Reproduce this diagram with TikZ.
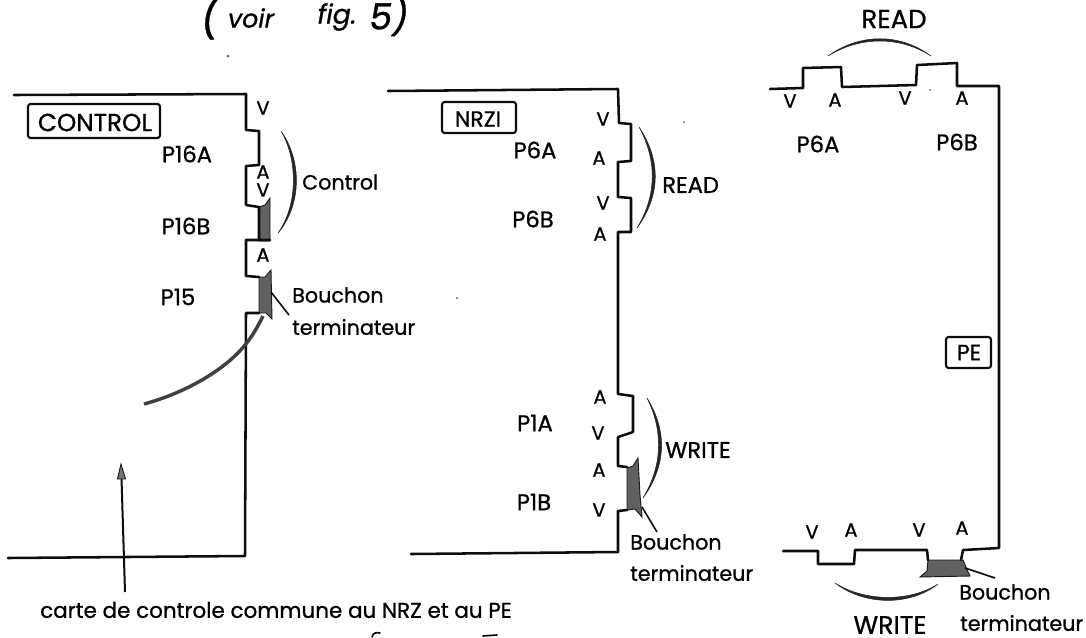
\documentclass[tikz,border=0pt]{standalone}
\usepackage{fontspec}
\setmainfont{Poppins}[RawFeature={embolden=0.9}]
\newcommand{\fsz}[1]{\fontsize{#1}{#1}\selectfont}
\tikzset{
  outline/.style={line width=1.9pt,line join=round,line cap=round,black!95},
  framebox/.style={draw,line width=1.6pt,rounded corners=2pt,black!95,inner sep=0pt},
  plug/.style={fill=black!62,draw=black!90,line width=0.7pt},
  leader/.style={line width=1.2pt,black!95},
  brace/.style={fill=black!85,draw=black!85,line width=0.4pt},
  lab/.style={inner sep=0pt,font=\fsz{15.5},text=black},
  pin/.style={inner sep=0pt,font=\fsz{14.5},text=black},
  big/.style={inner sep=0pt,font=\fsz{17},text=black},
  hand/.style={inner sep=0pt,text=black},
  speck/.style={fill=black!60}
}
\begin{document}
\begin{tikzpicture}[x=0.75pt,y=-0.75pt]
\useasboundingbox (0,0) rectangle (1086,637);
% handwriting
\node[hand,font=\itshape\fsz{30}] (h1) at (210,17) {(};
\node[hand,font=\itshape\fsz{19}] (h2) at (251,18) {voir};
\node[hand,font=\itshape\fsz{20}] (h3) at (337,17) {fig.};
\node[hand,font=\itshape\fsz{27}] (h4) at (389,16) {5)};
\draw[line width=1.2pt,line cap=round] (372,637) .. controls (373,633) and (376,632) .. (380,633);
\draw[line width=1.2pt,line cap=round] (483,636) -- (497,635);
\fill[speck] (228,56) circle (1.5);
\fill[speck] (457,298) circle (1.2);
\fill[speck] (684,122) circle (1);
\fill[speck] (930,90) circle (1);
% panel 1
\fill[plug] (259,207) -- (265,205) -- (270,198) -- (270,241) -- (259,241) -- cycle;
\fill[plug] (259,277) -- (265,277) -- (271,270) -- (272,319) -- (266,313) -- (259,313) -- cycle;
\draw[outline] (14,95) -- (246,94) -- (246,130) -- (259,131) -- (259,165) -- (246,166) -- (246,205) -- (259,207) -- (259,240);
\draw[outline] (270,240) -- (246,240) -- (246,276) -- (259,277);
\draw[outline] (259,313) -- (246,313) -- (245,556) -- (8,558);
\draw[line width=2.6pt,black!75,line cap=butt] (144,404) .. controls (185,393) and (225,370) .. (245,345) .. controls (252,337) and (258,326) .. (263,316);
\fill[brace] (281,131) .. controls (298,160) and (298,205) .. (278,233) .. controls (302,205) and (302,160) .. (281,131) -- cycle;
\node[framebox,minimum width=99pt,minimum height=25.5pt] (control) at (94,121) {};
\node[inner sep=0pt,font=\fsz{18.5},text=black] (controltxt) at (95,122.5) {CONTROL};
\node[big] (p16a) at (187,154) {P16A};
\node[big] (p16b) at (186,226) {P16B};
\node[big] (p15) at (178,297) {P15};
\node[pin] (v1) at (263,108) {V};
\node[pin] (a1) at (263,172) {A};
\node[pin] (v2) at (263,190) {V};
\node[pin] (a2) at (263,255) {A};
\node[lab,anchor=west] (ctl) at (302,182) {Control};
\node[lab,anchor=west] (b1) at (292,295) {Bouchon};
\node[lab,anchor=west] (t1) at (292,327) {terminateur};
\coordinate (l1a) at (271,292);
\coordinate (l1b) at (289,315);
\draw[leader] (l1a) -- (l1b);
% arrow
\coordinate (arrA) at (125,592);
\coordinate (arrB) at (121.5,478);
\draw[line width=1.5pt,black!95] (arrA) -- (arrB);
\fill[fill=black!55,draw=black!90,line width=0.7pt] (121,464) -- (125.5,479) -- (117.5,479) -- cycle;
\node[inner sep=0pt,font=\fsz{16.1},text=black] (carte) at (276,610) {carte de controle commune au NRZ et au PE};
% panel 2
\fill[plug] (627,468) -- (633,466) -- (638,458) -- (640,495) -- (642,517) -- (635,509) -- (627,510) -- cycle;
\draw[outline] (388,91) -- (618,89) -- (619,123) -- (631,124) -- (631,161) -- (618,162) -- (618,197) -- (631,198) -- (631,232) -- (618,232) -- (618,394) -- (633,396) -- (633,432) -- (618,437) -- (618,466) -- (627,467);
\draw[outline] (627,510) -- (618,511) -- (618,552) -- (411,554);
\fill[brace] (639,127) .. controls (657,160) and (657,195) .. (637,228) .. controls (661,195) and (661,160) .. (639,127) -- cycle;
\fill[brace] (647,398) .. controls (663,430) and (663,465) .. (643,498) .. controls (667,465) and (667,430) .. (647,398) -- cycle;
\node[framebox,minimum width=55.5pt,minimum height=23.25pt] (nrzi) at (479,117.5) {};
\node[inner sep=0pt,font=\fsz{16.5},text=black] (nrzitxt) at (478,119) {NRZI};
\node[big] (p6a) at (535,150) {P6A};
\node[big] (p6b) at (533,219) {P6B};
\node[big] (p1a) at (535,423) {P1A};
\node[big] (p1b) at (534,502) {P1B};
\node[pin] (nv1) at (603,119) {V};
\node[pin] (na1) at (599,158) {A};
\node[pin] (nv2) at (603,203) {V};
\node[pin] (na2) at (600,234) {A};
\node[pin] (na3) at (600,397) {A};
\node[pin] (nv3) at (598,433) {V};
\node[pin] (na4) at (599,470) {A};
\node[pin] (nv4) at (599,510) {V};
\node[big,anchor=west] (read2) at (662,185) {READ};
\node[big,anchor=west] (write2) at (665,450) {WRITE};
\node[lab,anchor=west] (b2) at (630,542) {Bouchon};
\node[lab,anchor=west] (t2) at (630,573) {terminateur};
\coordinate (l2a) at (642,507);
\coordinate (l2b) at (657,532);
\draw[leader] (l2a) -- (l2b);
% panel 3
\fill[plug] (928,560) -- (963,560) -- (968,572) -- (970,576) -- (920,577) -- (927,571) -- cycle;
\draw[outline] (770,89) -- (803,88) -- (803,68) -- (841,67) -- (842,87) -- (916,85) -- (917,65) -- (957,63) -- (957,86) -- (999,86) -- (999,548) -- (963,550) -- (961,560) (928,560) -- (927,550) -- (855,550) -- (854,564) -- (818,564) -- (818,551) -- (783,551);
\fill[brace] (828,56) .. controls (860,36) and (900,36) .. (931,56) .. controls (900,33) and (860,33) .. (828,56) -- cycle;
\fill[brace] (835,583) .. controls (865,602) and (910,602) .. (938,584) .. controls (910,606) and (865,606) .. (835,583) -- cycle;
\node[framebox,minimum width=33.75pt,minimum height=23.25pt] (pe) at (968.5,352.5) {};
\node[inner sep=0pt,font=\fsz{16.5},text=black] (petxt) at (969,352.5) {PE};
\node[inner sep=0pt,font=\fsz{19.5},text=black] (read3) at (894,19) {READ};
\node[inner sep=0pt,font=\fsz{19},text=black] (write3) at (890,625) {WRITE};
\node[big] (p6a3) at (818,144) {P6A};
\node[big] (p6b3) at (957,142) {P6B};
\node[pin] (pv1) at (790,101) {V};
\node[pin] (pa1) at (835,100) {A};
\node[pin] (pv2) at (905,98) {V};
\node[pin] (pa2) at (962,98) {A};
\node[pin] (pv3) at (812,532) {V};
\node[pin] (pa3) at (851,530) {A};
\node[pin] (pv4) at (919,530) {V};
\node[pin] (pa4) at (962,528) {A};
\node[lab,anchor=west] (b3) at (959,592) {Bouchon};
\node[lab,anchor=west] (t3) at (960,623) {terminateur};
\coordinate (l3a) at (965,568);
\coordinate (l3b) at (995,578);
\draw[leader] (l3a) -- (l3b);
\end{tikzpicture}
\end{document}
